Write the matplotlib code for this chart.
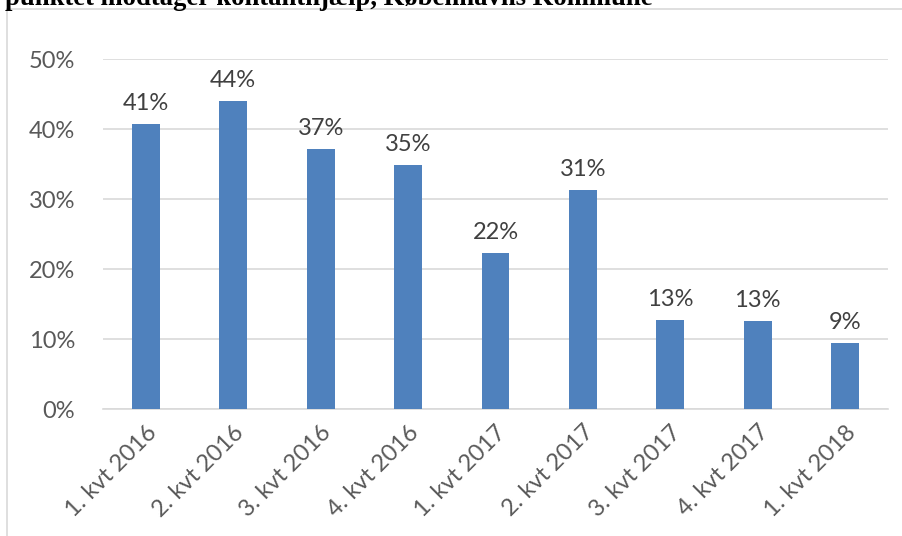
import matplotlib
matplotlib.use("Agg")
import matplotlib.pyplot as plt
from matplotlib.patches import Rectangle

categories = ["1. kvt 2016", "2. kvt 2016", "3. kvt 2016", "4. kvt 2016",
              "1. kvt 2017", "2. kvt 2017", "3. kvt 2017", "4. kvt 2017", "1. kvt 2018"]
values = [40.7, 44.0, 37.2, 34.9, 22.3, 31.3, 12.7, 12.6, 9.4]
labels = ["41%", "44%", "37%", "35%", "22%", "31%", "13%", "13%", "9%"]
yticks = [0, 10, 20, 30, 40, 50]
title = "punktet modtager kontanthjælp, Københavns Kommune"

W, H = 902, 536
FONT = "Lato"
fig = plt.figure(figsize=(W/100, H/100), dpi=100)
fig.patch.set_facecolor("white")

# outer chart border (extends beyond the right/bottom edges)
fig.patches.append(Rectangle((7/W, -0.1), 1.2, 1 - 9/H + 0.1, transform=fig.transFigure,
                             fill=False, edgecolor="#D9D9D9", linewidth=1.2))

fig.text(5/W, 1 - 5/H, title, fontfamily="Liberation Serif", fontweight="bold",
         fontsize=19.2, color="black", ha="left", va="baseline")

ax = fig.add_axes([103/W, 1 - 409/H, (888-103)/W, (409-59)/H])
x = list(range(len(categories)))
bars = ax.bar(x, values, width=0.32, color="#4F81BD", zorder=3)
ax.set_xlim(-0.49, len(categories) - 0.51)
ax.set_ylim(0, 50)
ax.set_yticks(yticks)
ax.set_yticklabels([f"{t}%" for t in yticks])
ax.grid(axis="y", color="#D9D9D9", linewidth=1.2, zorder=0)
for s in ["top", "right", "left"]:
    ax.spines[s].set_visible(False)
ax.spines["bottom"].set_color("#D9D9D9")
ax.spines["bottom"].set_linewidth(1.2)
ax.tick_params(axis="both", length=0, labelsize=17, colors="#595959", labelfontfamily=FONT)
ax.tick_params(axis="y", pad=20)
ax.set_xticks(x)
ax.set_xticklabels(categories, rotation=45, ha="right", va="top", rotation_mode="anchor")
ax.tick_params(axis="x", pad=9)

for xi, v, lab in zip(x, values, labels):
    ax.annotate(lab, (xi, v), xytext=(0, 7), textcoords="offset points",
                ha="center", va="bottom", fontsize=17, color="#404040",
                fontfamily=FONT)

fig.savefig("out.png", dpi=100, facecolor="white")
